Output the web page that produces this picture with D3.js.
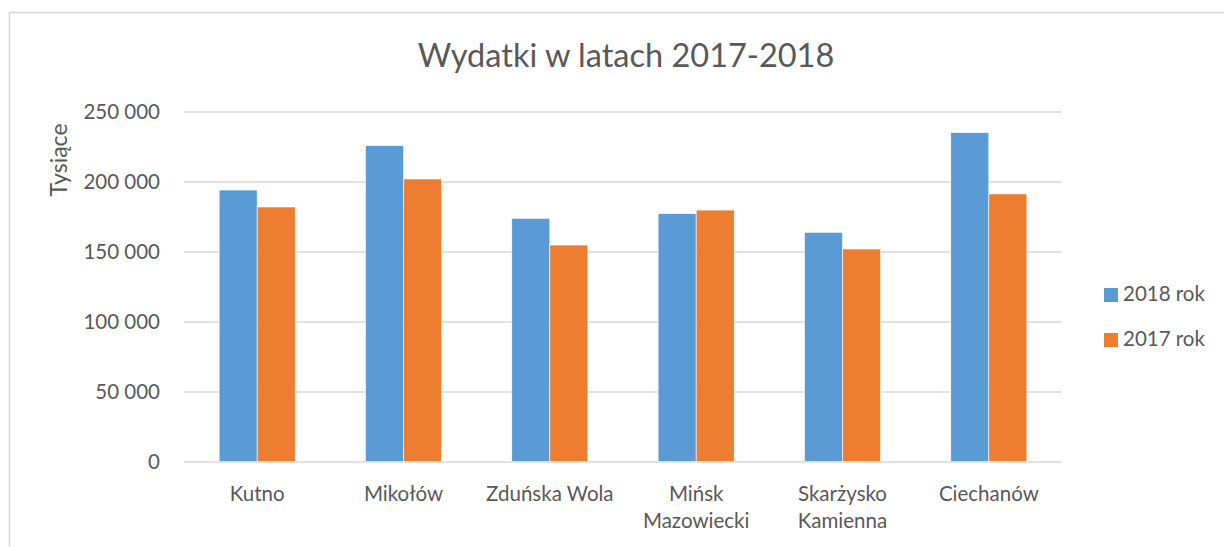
<!DOCTYPE html>
<html>
<head>
<meta charset="utf-8">
<script src="https://cdn.jsdelivr.net/npm/d3@7"></script>
<style>
  html, body { margin: 0; padding: 0; background: #fff; }
  svg { display: block; font-family: Lato, "Open Sans", sans-serif; }
</style>
</head>
<body>
<svg id="chart" width="1224" height="547"></svg>
<script>
const categories = ["Kutno", "Mikołów", "Zduńska Wola", "Mińsk Mazowiecki", "Skarżysko Kamienna", "Ciechanów"];
const categoryLines = [["Kutno"], ["Mikołów"], ["Zduńska Wola"], ["Mińsk", "Mazowiecki"], ["Skarżysko", "Kamienna"], ["Ciechanów"]];
const seriesNames = ["2018 rok", "2017 rok"];
const values2018 = [193900, 225600, 173700, 177000, 163700, 234900];
const values2017 = [181800, 201800, 154600, 179600, 151800, 191100];
const yTicks = [0, 50000, 100000, 150000, 200000, 250000];
const colors = ["#5B9BD5", "#ED7D31"];
const title = "Wydatki w latach 2017-2018";
const yTitle = "Tysiące";

const svg = d3.select("#chart");
const textColor = "#595959";

// frame
svg.append("rect").attr("x", 9.5).attr("y", 12.5).attr("width", 1230).attr("height", 560)
  .attr("fill", "none").attr("stroke", "#D9D9D9").attr("stroke-width", 1.5);

const plotLeft = 184, plotRight = 1062, plotTop = 111.5, plotBottom = 461.5;
const x = d3.scaleBand().domain(categories).range([plotLeft, plotRight]).paddingInner(0.48).paddingOuter(0.24);
const xs = d3.scaleBand().domain(seriesNames).range([0, x.bandwidth()]);
const y = d3.scaleLinear().domain([0, 250000]).range([plotBottom, plotTop]);

const fmt = v => d3.format(",")(v).replace(/,/g, " ");

// gridlines + y labels
const yAxis = d3.axisLeft(y).tickValues(yTicks).tickSize(-(plotRight - plotLeft)).tickFormat(fmt).tickPadding(24);
const gy = svg.append("g").attr("transform", `translate(${plotLeft},0)`).call(yAxis);
gy.select(".domain").remove();
gy.selectAll(".tick line").attr("stroke", "#D9D9D9").attr("stroke-width", 1.5);
gy.selectAll(".tick text").attr("fill", textColor).attr("font-size", 20.5)
  .attr("font-family", "Lato, sans-serif");

// bars
const data = categories.map((c, i) => ({ c, vals: [values2018[i], values2017[i]] }));
const groups = svg.append("g").selectAll("g").data(data).join("g")
  .attr("transform", d => `translate(${x(d.c)},0)`);
groups.selectAll("rect").data(d => d.vals.map((v, j) => ({ v, s: seriesNames[j], j })))
  .join("rect")
  .attr("x", d => xs(d.s))
  .attr("width", xs.bandwidth())
  .attr("y", d => y(d.v))
  .attr("height", d => y(0) - y(d.v))
  .attr("fill", d => colors[d.j])
  .attr("stroke", "#fff").attr("stroke-width", 0.6);

// x axis labels
const xl = svg.append("g");
categories.forEach((c, i) => {
  const t = xl.append("text")
    .attr("x", x(c) + x.bandwidth() / 2)
    .attr("y", 501)
    .attr("text-anchor", "middle")
    .attr("fill", textColor)
    .attr("font-size", 20.5);
  categoryLines[i].forEach((ln, k) => {
    t.append("tspan").attr("x", x(c) + x.bandwidth() / 2).attr("dy", k === 0 ? 0 : 27).text(ln);
  });
});

// title
svg.append("text").attr("x", 626).attr("y", 66.5).attr("text-anchor", "middle")
  .attr("fill", textColor).attr("font-size", 32.5).text(title);

// y title
svg.append("text").attr("transform", "translate(67,160) rotate(-90)")
  .attr("text-anchor", "middle").attr("fill", textColor).attr("font-size", 23).text(yTitle);

// legend
const lg = svg.append("g");
seriesNames.forEach((s, i) => {
  const yy = 288 + i * 45;
  lg.append("rect").attr("x", 1104).attr("y", yy).attr("width", 14).attr("height", 14).attr("fill", colors[i]);
  lg.append("text").attr("x", 1123).attr("y", yy + 13).attr("fill", textColor).attr("font-size", 20.5).text(s);
});
</script>
</body>
</html>
